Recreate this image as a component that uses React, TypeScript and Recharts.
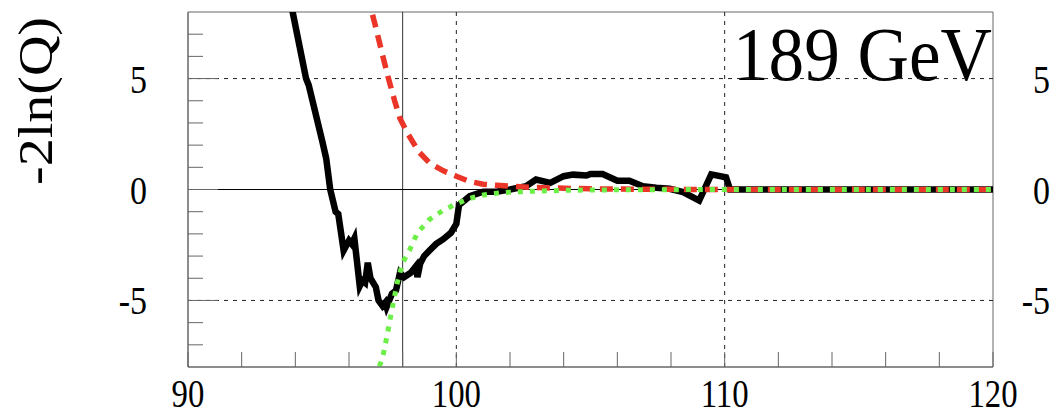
import React from "react";
import { LineChart, Line, XAxis, YAxis, ReferenceLine, ReferenceArea, Label } from "recharts";

// observed -2ln(Q) (black)
const obsX = [93.8, 93.9, 94.4, 94.5, 95.0, 95.15, 95.3, 95.4, 95.5, 95.6, 95.8, 96.0, 96.1, 96.2, 96.4, 96.5, 96.6, 96.7, 96.8, 97.0, 97.1, 97.25, 97.35, 97.4, 97.6, 97.75, 97.9, 98.05, 98.3, 98.5, 98.55, 98.65, 98.8, 99.0, 99.25, 99.5, 99.8, 100.0, 100.1, 100.25, 100.5, 101.0, 101.5, 102.0, 102.6, 102.97, 103.5, 104.0, 104.35, 104.85, 105.0, 105.45, 106.0, 106.45, 106.95, 107.45, 107.95, 108.45, 109.05, 109.5, 110.05, 110.2, 120];
const obsY = [8.6, 8.0, 5.0, 4.7, 2.2, 1.4, 0, -0.5, -1.0, -1.1, -2.75, -2.3, -2.45, -2.2, -4.35, -4.1, -4.2, -3.3, -4.0, -4.4, -5.0, -5.25, -5.1, -5.3, -4.7, -4.55, -3.75, -3.95, -3.75, -3.45, -3.95, -3.35, -3.0, -2.75, -2.45, -2.25, -1.95, -1.55, -0.7, -0.55, -0.3, -0.1, -0.1, 0, 0.15, 0.45, 0.3, 0.6, 0.67, 0.63, 0.7, 0.7, 0.4, 0.4, 0.15, 0.08, 0.03, -0.12, -0.5, 0.68, 0.55, 0, 0];

// expected signal+background (red dashed)
const sbX = [96.7, 96.85, 97.0, 97.2, 97.45, 97.7, 97.9, 98.2, 98.6, 99.0, 99.5, 100.0, 100.5, 101.0, 101.5, 102.0, 102.7, 103.5, 105.0, 107.0, 110.0, 120];
const sbY = [8.8, 8.0, 7.3, 6.3, 5.1, 4.0, 3.2, 2.5, 1.7, 1.2, 0.85, 0.6, 0.36, 0.24, 0.19, 0.15, 0.1, 0.07, 0.03, 0.01, 0, 0];

// expected background only (green dotted)
const bX = [97.05, 97.12, 97.25, 97.45, 97.6, 97.8, 98.0, 98.25, 98.55, 99.0, 99.5, 100.0, 100.5, 101.0, 101.5, 102.0, 103.0, 104.0, 105.0, 107.0, 110.0, 120];
const bY = [-8.5, -8.0, -7.6, -6.4, -5.4, -4.2, -3.3, -2.75, -1.95, -1.35, -0.95, -0.65, -0.4, -0.25, -0.17, -0.12, -0.07, -0.04, -0.02, -0.01, 0, 0];

const xTicks = [90, 92, 94, 96, 98, 100, 102, 104, 106, 108, 110, 112, 114, 116, 118, 120];
const xLabels = [90, 100, 110, 120];
const yTicks = [-7, -6, -5, -4, -3, -2, -1, 0, 1, 2, 3, 4, 5, 6, 7];
const yLabels = [-5, 0, 5];

const toRows = (xs: number[], ys: number[]) => xs.map((x, i) => ({ x, y: ys[i] }));
const obs = toRows(obsX, obsY);
const sb = toRows(sbX, sbY);
const bg = toRows(bX, bY);

const FONT = "'Liberation Serif', 'DejaVu Serif', serif";
const FRAME = "#666";
const txt = { fontFamily: FONT, fill: "#000" };

const XTick = (p: any) => {
  const v = p.payload.value;
  return (
    <g>
      <line x1={p.x} x2={p.x} y1={p.y} y2={p.y - 15} stroke={FRAME} strokeWidth={1} />
      {xLabels.includes(v) && (
        <text transform={`translate(${p.x},${p.y + 40}) scale(0.82,1)`} textAnchor="middle" fontSize={40} style={txt}>
          {v}
        </text>
      )}
    </g>
  );
};

const YTickLeft = (p: any) => {
  const v = p.payload.value;
  const major = yLabels.includes(v);
  return (
    <g>
      <line x1={p.x} x2={p.x + (major ? 30 : 15)} y1={p.y} y2={p.y} stroke={FRAME} strokeWidth={1} />
      {major && (
        <text transform={`translate(${p.x - 41},${p.y + 14}) scale(0.85,1)`} textAnchor="end" fontSize={40} style={txt}>
          {v}
        </text>
      )}
    </g>
  );
};

const YTickRight = (p: any) => (
  <text transform={`translate(${p.x + 57},${p.y + 14}) scale(0.85,1)`} textAnchor="end" fontSize={40} style={txt}>
    {p.payload.value}
  </text>
);

const YTitle = () => (
  <text transform="translate(52,101) rotate(-90) scale(1,0.86)" textAnchor="middle" fontSize={56} style={txt}>
    -2ln(Q)
  </text>
);

const Title = (p: any) => {
  const vb = p.viewBox;
  return (
    <text x={vb.x + vb.width - 1} y={vb.y + 68} textAnchor="end" fontSize={76} style={txt} textLength={259} lengthAdjust="spacingAndGlyphs">
      189 GeV
    </text>
  );
};

export default function App() {
  return (
    <div style={{ position: "absolute", left: 0, top: 0, background: "#fff" }}>
      <LineChart width={1056} height={415} margin={{ top: 12, right: 0, bottom: 0, left: 0 }}>
        <XAxis type="number" dataKey="x" domain={[90, 120]} ticks={xTicks} allowDataOverflow interval={0}
          height={48} axisLine={{ stroke: FRAME }} tickLine={false} tickSize={0} tickMargin={0} tick={<XTick />} />
        <YAxis yAxisId="l" type="number" domain={[-8, 8]} ticks={yTicks} allowDataOverflow interval={0}
          width={188} axisLine={{ stroke: FRAME }} tickLine={false} tickSize={0} tickMargin={0} tick={<YTickLeft />}
          label={<Label content={<YTitle />} />} />
        <YAxis yAxisId="r" orientation="right" type="number" domain={[-8, 8]} ticks={yLabels} allowDataOverflow interval={0}
          width={63} axisLine={false} tickLine={false} tickSize={0} tickMargin={0} tick={<YTickRight />} />

        <ReferenceLine yAxisId="l" y={5} stroke="#222" strokeDasharray="4 5" />
        <ReferenceLine yAxisId="l" y={-5} stroke="#222" strokeDasharray="4 5" />
        <ReferenceLine yAxisId="l" x={100} stroke="#222" strokeDasharray="4 5" />
        <ReferenceLine yAxisId="l" x={110} stroke="#222" strokeDasharray="4 5" />
        <ReferenceLine yAxisId="l" x={98} stroke="#333" />
        <ReferenceLine yAxisId="l" y={0} stroke="#000" />
        <ReferenceArea yAxisId="l" x1={90} x2={120} y1={-8} y2={8} fill="none" stroke={FRAME} strokeWidth={1}>
          <Label content={<Title />} />
        </ReferenceArea>

        <Line yAxisId="l" data={obs} dataKey="y" type="linear" stroke="#000" strokeWidth={6.5} dot={false} isAnimationActive={false} />
        <Line yAxisId="l" data={sb} dataKey="y" type="linear" stroke="#ea3528" strokeWidth={5.5} strokeDasharray="13 8" dot={false} isAnimationActive={false} />
        <Line yAxisId="l" data={bg} dataKey="y" type="linear" stroke="#6cef46" strokeWidth={5} strokeDasharray="5 7" dot={false} isAnimationActive={false} />
      </LineChart>
    </div>
  );
}
